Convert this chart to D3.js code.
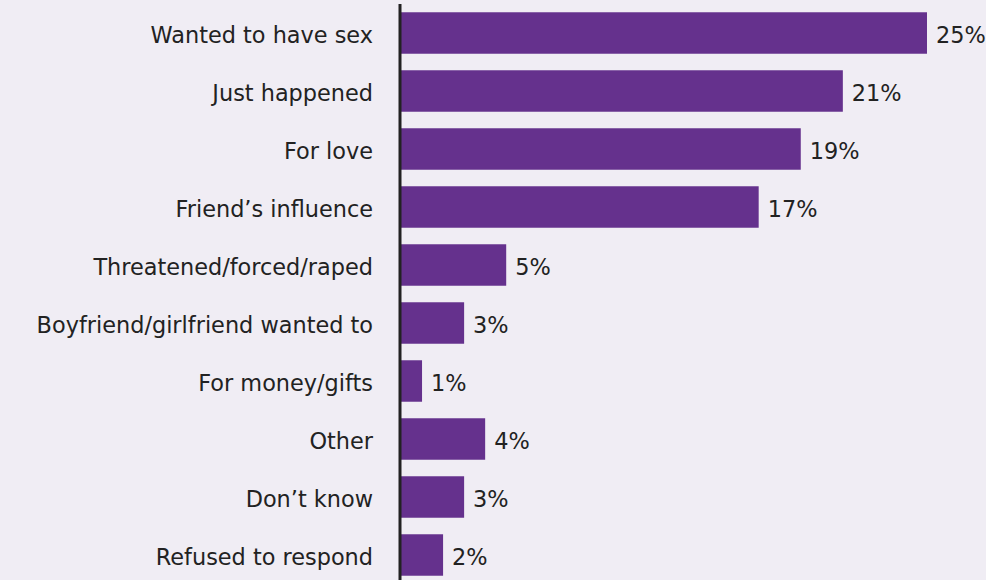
<!DOCTYPE html>
<html><head><meta charset="utf-8">
<script src="https://cdn.jsdelivr.net/npm/d3@7"></script>
<style>html,body{margin:0;padding:0;background:#f0edf4;}svg{display:block;}</style>
</head><body>
<svg id="chart" width="986" height="580"></svg>
<script>
const categories = ["Wanted to have sex","Just happened","For love","Friend\u2019s influence","Threatened/forced/raped","Boyfriend/girlfriend wanted to","For money/gifts","Other","Don\u2019t know","Refused to respond"];
const values = [25,21,19,17,5,3,1,4,3,2];

const svg = d3.select("#chart");
svg.append("rect").attr("width",986).attr("height",580).attr("fill","#f0edf4");
const x = d3.scaleLinear().domain([0,25]).range([401,927]);
const y = d3.scaleBand().domain(categories).range([4,584]).paddingInner(0.285).paddingOuter(0.1425);
const font = "'DejaVu Sans', Verdana, sans-serif";
const fs = 22.4;

svg.selectAll("rect.bar").data(categories).join("rect").attr("class","bar")
  .attr("x", x(0)).attr("y", d=>y(d)).attr("height", y.bandwidth())
  .attr("width", (d,i)=>x(values[i])-x(0)).attr("fill","#65318d");

svg.selectAll("text.val").data(categories).join("text").attr("class","val")
  .attr("x",(d,i)=>x(values[i])+9).attr("y",d=>y(d)+y.bandwidth()/2)
  .attr("dy","0.45em").attr("font-family",font).attr("font-size",fs).attr("fill","#222")
  .text((d,i)=>values[i]+"%");

const axis = d3.axisLeft(y).tickSize(0).tickPadding(27);
const g = svg.append("g").attr("transform",`translate(${x(0)-1},0)`).call(axis);
g.select(".domain").attr("d","M0,4V580").attr("stroke","#222").attr("stroke-width",3);
g.selectAll("text").attr("font-family",font).attr("font-size",fs).attr("fill","#222").attr("dy","0.45em");
</script>
</body></html>
